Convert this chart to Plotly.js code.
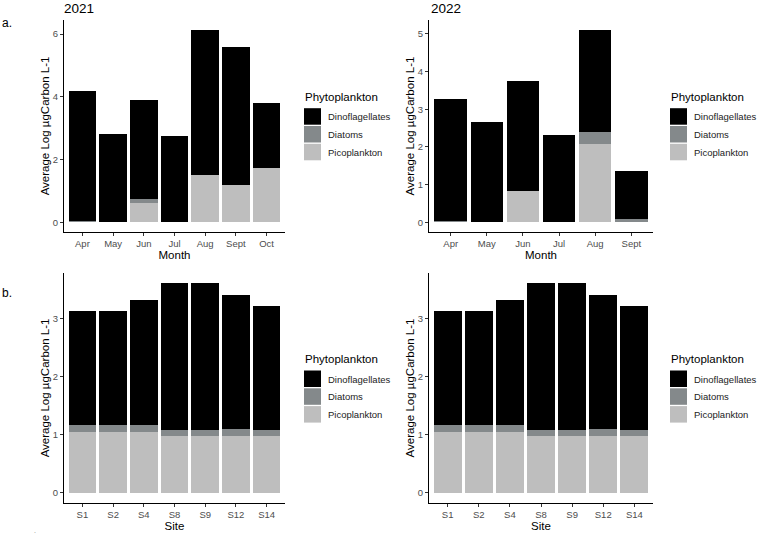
<!DOCTYPE html>
<html>
<head>
<meta charset="utf-8">
<script src="https://cdn.plot.ly/plotly-3.0.1.min.js"></script>
<style>
  html, body { margin: 0; padding: 0; background: #ffffff; }
  #chart { width: 762px; height: 536px; }
</style>
</head>
<body>
<div id="chart"></div>
<script>
// Average log phytoplankton carbon by month (a.) and by site (b.), 2021 and 2022
const months2021 = ['Apr', 'May', 'Jun', 'Jul', 'Aug', 'Sept', 'Oct'];
const pico2021     = [0.00, 0.00, 0.63, 0.00, 1.51, 1.19, 1.74];
const diatoms2021  = [0.03, 0.00, 0.11, 0.00, 0.00, 0.00, 0.00];
const dino2021     = [4.15, 2.81, 3.15, 2.76, 4.63, 4.40, 2.07];

const months2022 = ['Apr', 'May', 'Jun', 'Jul', 'Aug', 'Sept'];
const pico2022     = [0.00, 0.00, 0.83, 0.00, 2.09, 0.02];
const diatoms2022  = [0.03, 0.00, 0.00, 0.00, 0.31, 0.08];
const dino2022     = [3.23, 2.67, 2.92, 2.31, 2.71, 1.25];

const sites = ['S1', 'S2', 'S4', 'S8', 'S9', 'S12', 'S14'];
const picoSite2021    = [1.05, 1.05, 1.05, 0.98, 0.98, 0.98, 0.98];
const diatomsSite2021 = [0.11, 0.11, 0.11, 0.10, 0.10, 0.12, 0.10];
const dinoSite2021    = [1.97, 1.97, 2.15, 2.52, 2.52, 2.30, 2.13];

const picoSite2022    = [1.05, 1.05, 1.05, 0.98, 0.98, 0.98, 0.98];
const diatomsSite2022 = [0.11, 0.11, 0.11, 0.10, 0.10, 0.12, 0.10];
const dinoSite2022    = [1.97, 1.97, 2.15, 2.52, 2.52, 2.30, 2.13];

// stacking order, bottom to top
const groupNames = ['Picoplankton', 'Diatoms', 'Dinoflagellates'];
const groupColors = ['#bebebe', '#84898b', '#000000'];

const FONT = 'Liberation Sans, Arial, sans-serif';

// one stacked panel: picoplankton at the bottom, then diatoms, then dinoflagellates
function panel(cats, series, xa, ya) {
  return series.map((vals, i) => ({
    type: 'bar',
    x: cats,
    y: vals,
    name: groupNames[i],
    xaxis: xa,
    yaxis: ya,
    showlegend: false,
    marker: { color: groupColors[i], line: { width: 0 } },
    hoverinfo: 'x+y+name'
  }));
}

const data = [].concat(
  panel(months2021, [pico2021, diatoms2021, dino2021], 'x', 'y'),
  panel(months2022, [pico2022, diatoms2022, dino2022], 'x2', 'y2'),
  panel(sites, [picoSite2021, diatomsSite2021, dinoSite2021], 'x3', 'y3'),
  panel(sites, [picoSite2022, diatomsSite2022, dinoSite2022], 'x4', 'y4')
);

const W = 762, H = 536;
const px = v => v / W;
const py = v => 1 - v / H;

function xAxis(dom, n, anchor, title) {
  return {
    domain: dom, anchor: anchor, type: 'category',
    range: [-0.6, n - 0.4],
    showline: true, linecolor: '#000000', linewidth: 1,
    ticks: 'outside', ticklen: 3, tickcolor: '#333333', tickwidth: 1,
    tickfont: { family: FONT, size: 9.5, color: '#4d4d4d' },
    showgrid: false, zeroline: false, fixedrange: true,
    title: { text: title, font: { family: FONT, size: 11.5, color: '#000000' }, standoff: 2 }
  };
}
function yAxis(dom, range, dtick, anchor) {
  return {
    domain: dom, anchor: anchor,
    range: range, dtick: dtick, tick0: 0,
    showline: true, linecolor: '#000000', linewidth: 1,
    ticks: 'outside', ticklen: 3, tickcolor: '#333333', tickwidth: 1,
    tickfont: { family: FONT, size: 9.5, color: '#4d4d4d' },
    showgrid: false, zeroline: false, fixedrange: true,
    title: { text: 'Average Log µgCarbon L-1', font: { family: FONT, size: 11.5, color: '#000000' }, standoff: 0 }
  };
}

const topDom = [py(232), py(20)];
const botDom = [py(503), py(273)];
const leftDom = [px(64), px(285)];
const rightDom = [px(429), px(653)];

const shapes = [];
const annotations = [];

// key block beside each panel: title, then one swatch per group (top group first)
function keyBlock(left, titleY) {
  annotations.push({
    text: 'Phytoplankton', x: px(left - 1), y: py(titleY), xref: 'paper', yref: 'paper',
    xanchor: 'left', yanchor: 'middle', showarrow: false,
    font: { family: FONT, size: 11.5, color: '#000000' }
  });
  const order = groupNames.map((_, i) => i).reverse();
  order.forEach((g, k) => {
    const top = titleY + 11.5 + 17.8 * k;
    shapes.push({
      type: 'rect', xref: 'paper', yref: 'paper',
      x0: px(left), x1: px(left + 17), y0: py(top + 16.5), y1: py(top),
      fillcolor: groupColors[g], line: { width: 0 }
    });
    annotations.push({
      text: groupNames[g], x: px(left + 22), y: py(top + 8.5), xref: 'paper', yref: 'paper',
      xanchor: 'left', yanchor: 'middle', showarrow: false,
      font: { family: FONT, size: 9.5, color: '#222222' }
    });
  });
}
keyBlock(304, 96.7);
keyBlock(670, 96.7);
keyBlock(304, 359);
keyBlock(670, 359);

annotations.push(
  { text: '2021', x: px(62), y: py(8), xref: 'paper', yref: 'paper', xanchor: 'left', yanchor: 'middle', showarrow: false, font: { family: FONT, size: 13.5, color: '#000000' } },
  { text: '2022', x: px(429), y: py(8), xref: 'paper', yref: 'paper', xanchor: 'left', yanchor: 'middle', showarrow: false, font: { family: FONT, size: 13.5, color: '#000000' } },
  { text: 'a.', x: px(0), y: py(23), xref: 'paper', yref: 'paper', xanchor: 'left', yanchor: 'middle', showarrow: false, font: { family: FONT, size: 12, color: '#000000' } },
  { text: 'b.', x: px(0), y: py(293), xref: 'paper', yref: 'paper', xanchor: 'left', yanchor: 'middle', showarrow: false, font: { family: FONT, size: 12, color: '#000000' } },
  { text: '.', x: px(35), y: py(530), xref: 'paper', yref: 'paper', xanchor: 'center', yanchor: 'middle', showarrow: false, font: { family: FONT, size: 7, color: '#888888' } }
);

const layout = {
  width: W, height: H,
  margin: { l: 0, r: 0, t: 0, b: 0 },
  paper_bgcolor: '#ffffff', plot_bgcolor: '#ffffff',
  barmode: 'stack', bargap: 0.1,
  showlegend: false,
  font: { family: FONT },
  xaxis: xAxis(leftDom, months2021.length, 'y', 'Month'),
  yaxis: yAxis(topDom, [-0.307, 6.447], 2, 'x'),
  xaxis2: xAxis(rightDom, months2022.length, 'y2', 'Month'),
  yaxis2: yAxis(topDom, [-0.2555, 5.3655], 1, 'x2'),
  xaxis3: xAxis(leftDom, sites.length, 'y3', 'Site'),
  yaxis3: yAxis(botDom, [-0.18, 3.78], 1, 'x3'),
  xaxis4: xAxis(rightDom, sites.length, 'y4', 'Site'),
  yaxis4: yAxis(botDom, [-0.18, 3.78], 1, 'x4'),
  shapes: shapes,
  annotations: annotations
};

Plotly.newPlot('chart', data, layout, { displayModeBar: false, staticPlot: true });
</script>
</body>
</html>
